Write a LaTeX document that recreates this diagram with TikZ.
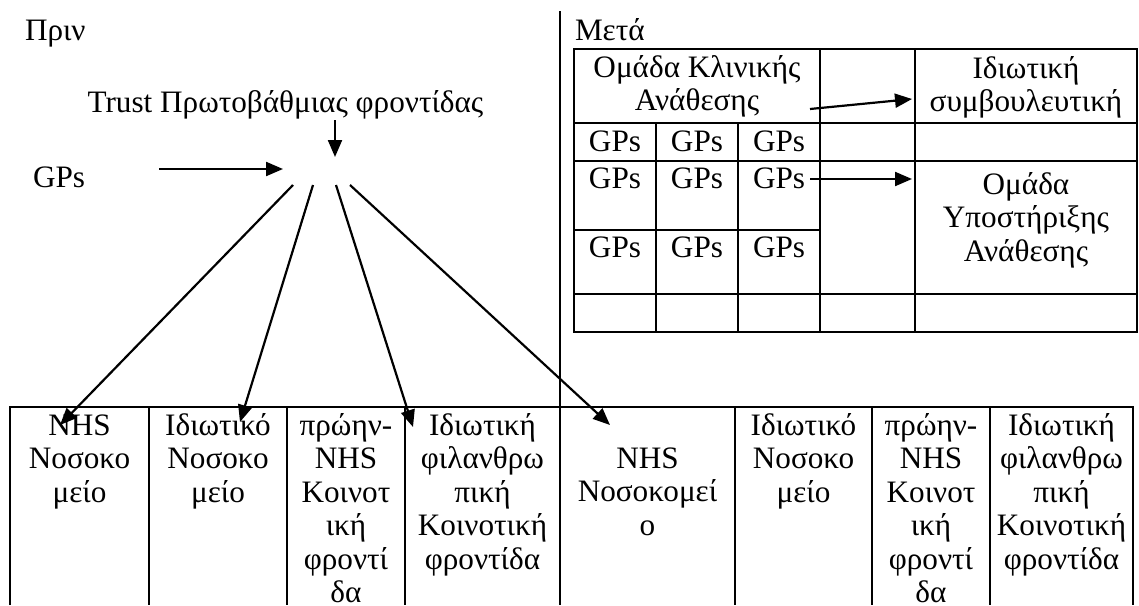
\documentclass[tikz,border=0pt]{standalone}
\usepackage{fontspec}
\setmainfont{Liberation Serif}
\usetikzlibrary{arrows.meta,calc}

% centred lines, baseline of the box = baseline of the first line
\newcommand\cellstack[1]{\vtop{\halign{\hfil##\hfil\cr#1\crcr}}}

\begin{document}
\begin{tikzpicture}[x=1pt,y=-1pt,
  every node/.style={font=\fontsize{31.2}{33.5}\selectfont, inner sep=0pt, outer sep=0pt},
  txt/.style={anchor=base},
  txtw/.style={anchor=base west},
  grid/.style={line width=2.2pt},
  arr/.style={line width=2.2pt, -{Triangle[length=17pt,width=14pt]}},
  ]
\useasboundingbox (0,0) rectangle (1139,605);

% ---------- left half: before ----------
\node[txtw] (prin) at (25,40) {Πριν};
\node[txt] (trust) at (285.5,112) {Trust Πρωτοβάθμιας φροντίδας};
\node[txtw] (gpsl) at (33,187) {GPs};
\node[minimum width=70pt, minimum height=32pt] (hub) at (318,169) {};

\draw[arr] ($(trust.base)+(49.5,8)$) -- ($(hub.north)+(17,4)$);
\draw[arr] ($(gpsl.base west)+(126,-18)$) -- (hub.west);

% ---------- divider ----------
\draw[grid] (560,11) -- (560,605);

% ---------- right half: after ----------
\node[txtw] (meta) at (575,40) {Μετά};

\draw[grid] (574,49) rectangle (1137,332);
\draw[grid] (574,123) -- (1137,123);
\draw[grid] (574,161) -- (1137,161);
\draw[grid] (574,230) -- (820,230);
\draw[grid] (574,294) -- (1137,294);
\draw[grid] (656,123) -- (656,332);
\draw[grid] (738,123) -- (738,332);
\draw[grid] (820,49) -- (820,332);
\draw[grid] (915,49) -- (915,332);

\node[txt] (ck) at (697,77) {\cellstack{Ομάδα Κλινικής\cr Ανάθεσης}};
\node[txt] (ic) at (1026,78) {\cellstack{Ιδιωτική\cr συμβουλευτική}};
\node[txt] (g21) at (615,151) {GPs};
\node[txt] (g22) at (697,151) {GPs};
\node[txt] (g23) at (779,151) {GPs};
\node[txt] (g31) at (615,188) {GPs};
\node[txt] (g32) at (697,188) {GPs};
\node[txt] (g33) at (779,188) {GPs};
\node[txt] (g41) at (615,257) {GPs};
\node[txt] (g42) at (697,257) {GPs};
\node[txt] (g43) at (779,257) {GPs};
\node[txt] (us) at (1026,194) {\cellstack{Ομάδα\cr Υποστήριξης\cr Ανάθεσης}};

\draw[arr] ($(ck.base)+(113,32)$) -- ($(ic.base)+(-114,21)$);
\draw[arr] ($(g33.base)+(31,-9)$) -- ($(us.base)+(-114,-15)$);

% ---------- providers ----------
\draw[grid] (10,605) -- (10,407) -- (1133,407) -- (1133,605);
\foreach \cx in {149,287,405,735,872,990}
  \draw[grid] (\cx,407) -- (\cx,605);

\node[txt] (b1) at (79.5,435) {\cellstack{NHS\cr Νοσοκο\cr μείο}};
\node[txt] (b2) at (218,435) {\cellstack{Ιδιωτικό\cr Νοσοκο\cr μείο}};
\node[txt] (b3) at (346,435) {\cellstack{πρώην-\cr NHS\cr Κοινοτ\cr ική\cr φροντί\cr δα}};
\node[txt] (b4) at (482.5,435) {\cellstack{Ιδιωτική\cr φιλανθρω\cr πική\cr Κοινοτική\cr φροντίδα}};
\node[txt] (b5) at (647.5,468) {\cellstack{NHS\cr Νοσοκομεί\cr ο}};
\node[txt] (b6) at (803.5,435) {\cellstack{Ιδιωτικό\cr Νοσοκο\cr μείο}};
\node[txt] (b7) at (931,435) {\cellstack{πρώην-\cr NHS\cr Κοινοτ\cr ική\cr φροντί\cr δα}};
\node[txt] (b8) at (1061.5,435) {\cellstack{Ιδιωτική\cr φιλανθρω\cr πική\cr Κοινοτική\cr φροντίδα}};

\draw[arr] ($(hub.south)+(-25,0)$) -- ($(b1.base)+(-19.5,-10)$);
\draw[arr] ($(hub.south)+(-5,0)$) -- ($(b2.base)+(22,-13)$);
\draw[arr] ($(hub.south)+(18,0)$) -- ($(b4.base)+(-69.5,-8)$);
\draw[arr] ($(hub.south)+(32,0)$) -- ($(b5.base)+(-37.5,-43)$);
\end{tikzpicture}
\end{document}
